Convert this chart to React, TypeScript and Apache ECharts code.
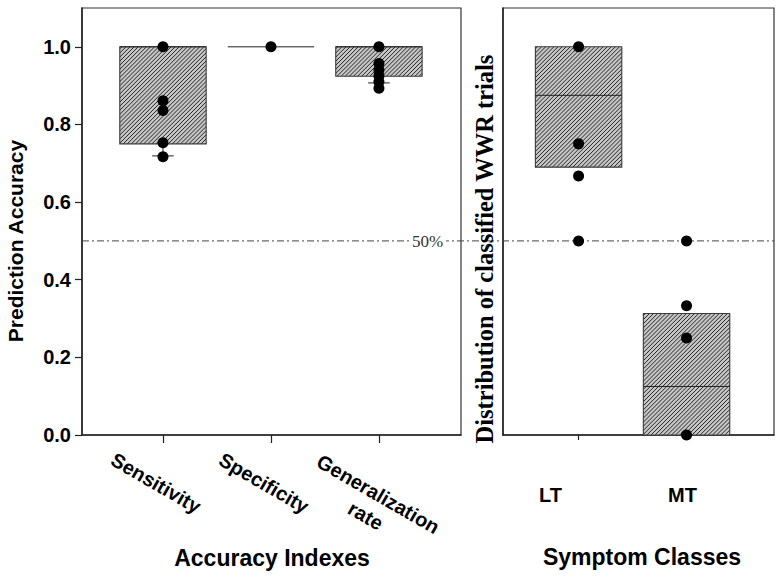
import React, { useEffect, useRef } from 'react';
import * as echarts from 'echarts';

// ---- data ----
const leftCategories = ['Sensitivity', 'Specificity', 'Generalization\nrate'];
const leftPositions = [1, 2, 3];
const leftQ1 = [0.75, 1.0, 0.924];
const leftQ3 = [1.0, 1.0, 1.0];
const leftMedian = [1.0, 1.0, 1.0];
const leftLowerCap: (number | null)[] = [0.719, null, 0.907];
const sensitivityPoints = [1.0, 0.861, 0.836, 0.753, 0.717];
const specificityPoints = [1.0];
const generalizationPoints = [1.0, 0.957, 0.94, 0.925, 0.91, 0.893];

const rightCategories = ['LT', 'MT'];
const rightPositions = [1, 2];
const rightQ1 = [0.69, 0];
const rightQ3 = [1.0, 0.313];
const rightMedian = [0.875, 0.125];
const ltPoints = [1.0, 0.75, 0.667, 0.5];
const mtPoints = [0.5, 0.333, 0.25, 0];

const yTicks = [0, 0.2, 0.4, 0.6, 0.8, 1.0];
const chanceLevel = 0.5;
const chanceLabel = '50%';

const leftYTitle = 'Prediction Accuracy';
const leftXTitle = 'Accuracy Indexes';
const rightYTitle = 'Distribution of classified WWR trials';
const rightXTitle = 'Symptom Classes';

// ---- styling ----
const SANS = '"Liberation Sans", Arial, sans-serif';
const SERIF = '"Liberation Serif", "Times New Roman", serif';
const BOX_HALF = 0.4;
const CAP_HALF = 0.1;

function renderBox(params: any, api: any) {
  const x = api.value(0);
  const q1 = api.value(1);
  const q3 = api.value(2);
  const med = api.value(3);
  const cap = api.value(4);
  const tl = api.coord([x - BOX_HALF, q3]);
  const br = api.coord([x + BOX_HALF, q1]);
  const x0 = tl[0], y0 = tl[1], x1 = br[0], y1 = br[1];
  const children: any[] = [];
  if (y1 - y0 > 0.5) {
    children.push({
      type: 'rect',
      shape: { x: x0, y: y0, width: x1 - x0, height: y1 - y0 },
      style: { fill: '#c6c6c6', stroke: null },
    });
    const step = 4.1;
    for (let c = x0 + y0 + step * 0.5; c < x1 + y1; c += step) {
      const xa = Math.max(x0, c - y1);
      const xb = Math.min(x1, c - y0);
      if (xb > xa) {
        children.push({
          type: 'line',
          shape: { x1: xa, y1: c - xa, x2: xb, y2: c - xb },
          style: { stroke: '#262626', lineWidth: 1 },
        });
      }
    }
    children.push({
      type: 'rect',
      shape: { x: x0, y: y0, width: x1 - x0, height: y1 - y0 },
      style: { fill: 'none', stroke: '#3a3a3a', lineWidth: 1.1 },
    });
  }
  const m0 = api.coord([x - BOX_HALF, med]);
  const m1 = api.coord([x + BOX_HALF, med]);
  children.push({
    type: 'line',
    shape: { x1: m0[0], y1: m0[1], x2: m1[0], y2: m1[1] },
    style: { stroke: '#222', lineWidth: 1 },
  });
  if (cap != null && !isNaN(cap)) {
    const w0 = api.coord([x, q1]);
    const w1 = api.coord([x, cap]);
    const c0 = api.coord([x - CAP_HALF, cap]);
    const c1 = api.coord([x + CAP_HALF, cap]);
    children.push({
      type: 'line',
      shape: { x1: w0[0], y1: w0[1], x2: w1[0], y2: w1[1] },
      style: { stroke: '#222', lineWidth: 1 },
    });
    children.push({
      type: 'line',
      shape: { x1: c0[0], y1: c0[1], x2: c1[0], y2: c1[1] },
      style: { stroke: '#222', lineWidth: 1 },
    });
  }
  return { type: 'group', children };
}

function renderChance(params: any, api: any) {
  const p = api.coord([0.25, api.value(0)]);
  const lab = api.coord([3.45, api.value(0)]);
  return {
    type: 'group',
    children: [
      {
        type: 'line',
        shape: { x1: p[0], y1: p[1], x2: api.getWidth() - 8, y2: p[1] },
        style: { stroke: '#444', lineWidth: 1, lineDash: [7, 3, 2, 3] },
      },
      {
        type: 'text',
        x: lab[0],
        y: lab[1] + 1,
        style: {
          text: chanceLabel,
          fontFamily: SERIF,
          fontSize: 17,
          fill: '#333',
          align: 'center',
          verticalAlign: 'middle',
          backgroundColor: '#fff',
          padding: [0, 3],
        },
      },
    ],
  };
}

// rotated category labels under the left axis, placed at each tick
function renderCatLabel(params: any, api: any) {
  const pos = api.value(0);
  const name = leftCategories[params.dataIndex];
  const lines = name.split('\n').length;
  const anchor = api.coord([pos, 0]);
  return {
    type: 'text',
    x: anchor[0] - 7,
    y: anchor[1] + 48 + (lines - 1) * 22,
    rotation: -Math.PI / 6,
    style: {
      text: name,
      fontFamily: SANS,
      fontWeight: 'bold',
      fontSize: 20,
      lineHeight: 25,
      fill: '#000',
      align: 'center',
      verticalAlign: 'middle',
    },
  };
}

const catFont = { fontFamily: SANS, fontWeight: 'bold', fontSize: 20, color: '#000' };

export default function App() {
  const ref = useRef<HTMLDivElement>(null);
  useEffect(() => {
    if (!ref.current) return;
    const chart = echarts.init(ref.current, null, { renderer: 'svg' });

    const leftBoxData = leftPositions.map((p, i) => [p, leftQ1[i], leftQ3[i], leftMedian[i], leftLowerCap[i] ?? '-']);
    const rightBoxData = rightPositions.map((p, i) => [p, rightQ1[i], rightQ3[i], rightMedian[i], '-']);
    const leftPts = [
      ...sensitivityPoints.map((v) => [leftPositions[0], v]),
      ...specificityPoints.map((v) => [leftPositions[1], v]),
      ...generalizationPoints.map((v) => [leftPositions[2], v]),
    ];
    const rightPts = [
      ...ltPoints.map((v) => [rightPositions[0], v]),
      ...mtPoints.map((v) => [rightPositions[1], v]),
    ];

    const axisLine = { show: true, lineStyle: { color: '#222', width: 1.5 } };

    chart.setOption({
      animation: false,
      backgroundColor: '#fff',
      grid: [
        { left: 82, top: 8, width: 379, height: 427, show: true, borderColor: '#333', borderWidth: 1.2 },
        { left: 503, top: 8, width: 271, height: 427, show: true, borderColor: '#333', borderWidth: 1.2 },
      ],
      xAxis: [
        {
          type: 'value', gridIndex: 0, min: 0.25, max: 3.76,
          splitLine: { show: false }, axisLine,
          axisTick: { show: true, length: 8, customValues: leftPositions, lineStyle: { color: '#222', width: 1.2 } },
          axisLabel: { show: false },
        },
        {
          type: 'value', gridIndex: 1, min: 0.3, max: 2.81,
          splitLine: { show: false }, axisLine,
          axisTick: { show: true, length: 5, customValues: rightPositions, lineStyle: { color: '#222', width: 1.2 } },
          axisLabel: {
            customValues: rightPositions,
            hideOverlap: false,
            formatter: (v: number) => {
              const i = Math.round(v) - 1;
              return `{c${i}|${rightCategories[i] ?? ''}}`;
            },
            margin: 50,
            rich: {
              c0: { ...catFont, padding: [0, 56, 0, 0] },
              c1: { ...catFont, padding: [0, 8, 0, 0] },
            },
          },
        },
      ],
      yAxis: [
        {
          type: 'value', gridIndex: 0, min: 0, max: 1.1,
          splitLine: { show: false }, axisLine,
          axisTick: { show: true, length: 7, customValues: yTicks, lineStyle: { color: '#222', width: 1.2 } },
          axisLabel: {
            customValues: yTicks,
            formatter: (v: number) => v.toFixed(1),
            margin: 11, fontFamily: SANS, fontWeight: 'bold', fontSize: 20, color: '#000',
          },
        },
        {
          type: 'value', gridIndex: 1, min: 0, max: 1.1,
          splitLine: { show: false }, axisLine,
          axisTick: { show: false },
          axisLabel: { show: false },
        },
      ],
      series: [
        {
          type: 'custom', xAxisIndex: 0, yAxisIndex: 0, clip: false, z: 1,
          renderItem: renderChance, data: [[chanceLevel]], silent: true,
        },
        {
          type: 'custom', xAxisIndex: 0, yAxisIndex: 0, clip: false, z: 5,
          renderItem: renderCatLabel, data: leftPositions.map((p) => [p]), silent: true,
        },
        {
          type: 'custom', xAxisIndex: 0, yAxisIndex: 0, z: 2,
          renderItem: renderBox, data: leftBoxData,
        },
        {
          type: 'custom', xAxisIndex: 1, yAxisIndex: 1, z: 2,
          renderItem: renderBox, data: rightBoxData,
        },
        {
          type: 'scatter', xAxisIndex: 0, yAxisIndex: 0, z: 3,
          symbolSize: 11, itemStyle: { color: '#000', opacity: 1 }, data: leftPts,
        },
        {
          type: 'scatter', xAxisIndex: 1, yAxisIndex: 1, z: 3,
          symbolSize: 11, itemStyle: { color: '#000', opacity: 1 }, data: rightPts,
        },
      ],
      graphic: [
        {
          type: 'text', x: 15, y: 241, rotation: Math.PI / 2, z: 10,
          style: { text: leftYTitle, fontFamily: SANS, fontWeight: 'bold', fontSize: 21, fill: '#000', align: 'center', verticalAlign: 'middle' },
        },
        {
          type: 'text', x: 272, y: 558, z: 10,
          style: { text: leftXTitle, fontFamily: SANS, fontWeight: 'bold', fontSize: 23, fill: '#000', align: 'center', verticalAlign: 'middle' },
        },
        {
          type: 'text', x: 484, y: 249, rotation: Math.PI / 2, z: 10,
          style: { text: rightYTitle, fontFamily: SERIF, fontWeight: 'bold', fontSize: 24.5, fill: '#000', align: 'center', verticalAlign: 'middle' },
        },
        {
          type: 'text', x: 642, y: 557, z: 10,
          style: { text: rightXTitle, fontFamily: SANS, fontWeight: 'bold', fontSize: 23, fill: '#000', align: 'center', verticalAlign: 'middle' },
        },
      ],
    });
    return () => chart.dispose();
  }, []);
  return (
    <div
      ref={ref}
      style={{ position: 'fixed', left: 0, top: 0, width: 782, height: 577, background: '#fff' }}
    />
  );
}
